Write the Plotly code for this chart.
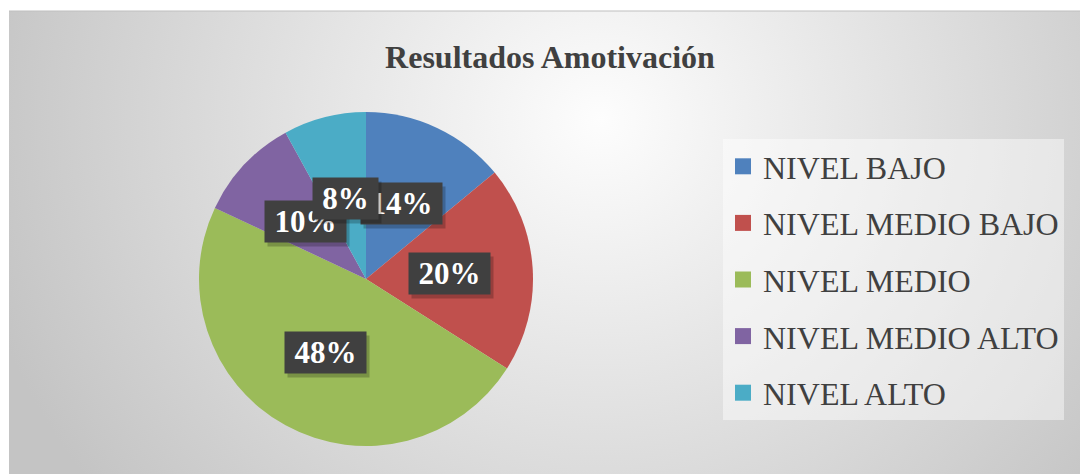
import base64
import math
import plotly.graph_objects as go

# ---- data ----
labels = ["NIVEL BAJO", "NIVEL MEDIO BAJO", "NIVEL MEDIO", "NIVEL MEDIO ALTO", "NIVEL ALTO"]
values = [14, 20, 48, 10, 8]
colors = ["#4F81BD", "#C0504D", "#9BBB59", "#8064A2", "#4BACC6"]
title_text = "Resultados Amotivación"

W, H = 1080, 474
SERIF = "Liberation Serif"

# pie geometry (pixels)
pcx, pcy, pr = 366, 279, 167
dom_x = [(pcx - pr) / W, (pcx + pr) / W]
dom_y = [(H - pcy - pr) / H, (H - pcy + pr) / H]

# background gradient (chart area)
ax0, ay0 = 9, 11
aw, ah = W - ax0, H - ay0
gcx, gcy = 600 - ax0, 120 - ay0
svg = (
    f"<svg xmlns='http://www.w3.org/2000/svg' width='{aw}' height='{ah}' viewBox='0 0 {aw} {ah}' preserveAspectRatio='none'>"
    f"<defs><radialGradient id='g' gradientUnits='userSpaceOnUse' cx='{gcx}' cy='{gcy}' r='640' "
    f"gradientTransform='translate({gcx} {gcy}) scale(1 0.94) translate({-gcx} {-gcy})'>"
    "<stop offset='0' stop-color='#fdfdfd'/><stop offset='1' stop-color='#c4c4c4'/>"
    "</radialGradient></defs>"
    f"<rect x='0' y='0' width='{aw}' height='{ah}' fill='url(#g)'/></svg>"
)
svg_uri = "data:image/svg+xml;base64," + base64.b64encode(svg.encode()).decode()

fig = go.Figure()
fig.add_trace(go.Pie(
    labels=labels, values=values, sort=False, direction="clockwise", rotation=0,
    marker=dict(colors=colors, line=dict(width=0)),
    textinfo="none", showlegend=False, domain=dict(x=dom_x, y=dom_y),
    hovertemplate="%{label}: %{percent}<extra></extra>",
))

# legend entries (one group each so gaps can be set)
for lab, col in zip(labels, colors):
    fig.add_trace(go.Scatter(
        x=[None], y=[None], mode="markers", name=lab, legendgroup=lab,
        marker=dict(symbol="square", size=16, color=col), showlegend=True,
    ))

# data labels computed from the values
total = sum(values)
annotations = []
cum = 0
for v in values:
    mid = (cum + v / 2) / total * 2 * math.pi
    cum += v
    lx = (pcx + 0.5 * pr * math.sin(mid)) / W
    ly = (H - pcy + 0.5 * pr * math.cos(mid)) / H
    pct = round(v / total * 100)
    txt = f"<b>{pct}%</b>"
    bw = 75 if pct >= 10 else 59
    common = dict(x=lx, y=ly, xref="paper", yref="paper", text=txt, showarrow=False,
                  xanchor="center", yanchor="middle", borderpad=3, width=bw)
    annotations.append(dict(
        **common, font=dict(family=SERIF, size=31, color="rgba(0,0,0,0)"),
        bgcolor="rgba(0,0,0,0.22)", xshift=3, yshift=-4,
    ))
    annotations.append(dict(
        **common, font=dict(family=SERIF, size=31, color="#FFFFFF"),
        bgcolor="#404040",
    ))

fig.update_layout(
    width=W, height=H, margin=dict(l=0, r=0, t=0, b=0),
    paper_bgcolor="#FFFFFF", plot_bgcolor="rgba(0,0,0,0)",
    title=dict(text=f"<b>{title_text}</b>", x=550 / W, xanchor="center",
               y=1 - 57 / H, yanchor="middle",
               font=dict(family=SERIF, size=32, color="#404040")),
    xaxis=dict(visible=False), yaxis=dict(visible=False),
    legend=dict(x=723 / W, xanchor="left", y=1 - 139 / H, yanchor="top",
                bgcolor="rgba(255,255,255,0.45)", borderwidth=0,
                font=dict(family=SERIF, size=32, color="#404040"),
                tracegroupgap=12, itemsizing="trace"),
    images=[dict(source=svg_uri, xref="paper", yref="paper", x=ax0 / W, y=1 - ay0 / H,
                 sizex=aw / W, sizey=ah / H, sizing="stretch", layer="below",
                 xanchor="left", yanchor="top")],
    shapes=[dict(type="line", xref="paper", yref="paper", x0=ax0 / W, x1=1,
                 y0=1 - ay0 / H, y1=1 - ay0 / H, line=dict(color="#BFBFBF", width=1))],
    annotations=annotations,
)

fig.write_html("out.html", config={"displayModeBar": False},
               post_script="document.body.style.margin='0';")
